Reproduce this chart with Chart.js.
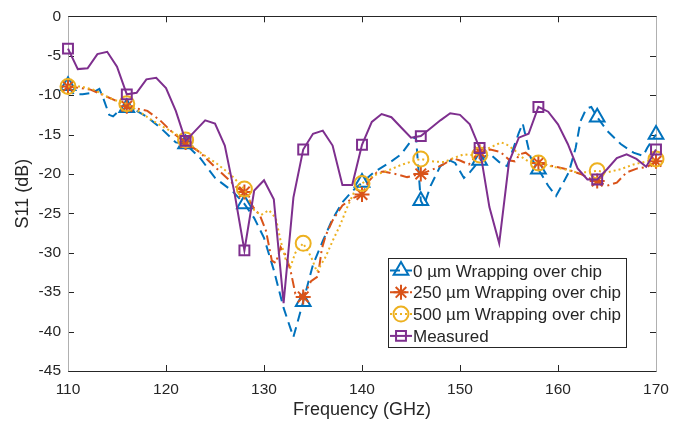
<!DOCTYPE html>
<html><head><meta charset="utf-8">
<script src="https://cdn.jsdelivr.net/npm/chart.js@4.4.1/dist/chart.umd.min.js"></script>
<style>html,body{margin:0;padding:0;background:#fff;}#wrap{width:693px;height:421px;}</style>
</head><body><div id="wrap"><canvas id="c" width="693" height="421"></canvas></div>
<script>
// ---------- data ----------
const xTicks = [110,120,130,140,150,160,170];
const yTicks = [-45,-40,-35,-30,-25,-20,-15,-10,-5,0];
const markerFreqs = [110,116,122,128,134,140,146,152,158,164,170];
const seriesLabels = ['0 µm Wrapping over chip','250 µm Wrapping over chip','500 µm Wrapping over chip','Measured'];

const freq0um = [110,110.6,111.5,112.5,113.2,113.6,114.2,114.6,115.2,116,117,118,119.4,121,122,123.5,125,126.8,128,129,130,131,132,133,134,135,136,137,138,139,140,141.2,143,144,145,145.5,146,146.3,147,148,149,149.5,150.4,151,152,153,154,154.8,156,156.4,157.2,158,159,159.8,160.5,161.1,161.8,162.3,162.9,163.4,164,165,166.4,167.7,168.7,169.1,170];
const s11_0um  = [-8.8,-9.9,-9.9,-9.7,-9.2,-10.4,-12.5,-12.7,-12.0,-11.6,-12.0,-12.7,-14.1,-16.0,-16.2,-18.0,-20.5,-22.2,-23.8,-25.6,-28.1,-32.2,-37.0,-40.7,-36.2,-31.5,-28.5,-25.7,-23.6,-22.2,-21.1,-19.8,-18.4,-17.5,-15.8,-15.2,-23.4,-24.1,-21.5,-19.0,-18.3,-18.6,-20.5,-19.8,-18.3,-17.4,-18.5,-19.0,-14.8,-13.6,-17.9,-19.4,-21.5,-22.8,-21.2,-19.8,-16.7,-13.3,-11.7,-11.5,-12.8,-14.5,-16.2,-17.3,-17.7,-16.7,-15.0];

const freq250um = [110,111.3,112.3,113.6,114.7,116,117,118.1,119.4,120.8,122,123.5,124.9,126.3,127.3,128,128.9,129.6,130.2,130.8,131.2,131.7,132.2,132.7,133.2,134,134.8,135.5,135.9,136.3,137,138,139,140,140.7,141.5,142.2,143.4,144.6,146,147.1,148.3,149.3,150,150.9,152,153.1,154.1,155.1,155.6,156.1,156.7,158,159.4,160.9,162.3,163.3,164,165,166,167,168.1,169.1,170];
const s11_250um  = [-8.9,-9.1,-9.3,-10.0,-10.6,-11.4,-11.7,-12.0,-13.2,-14.9,-16.0,-17.3,-19.0,-20.6,-21.8,-22.3,-24.2,-25.3,-27.2,-31.0,-31.3,-29.3,-30.3,-32.2,-35.2,-35.6,-33.6,-33.0,-29.5,-27.8,-25.9,-24.0,-23.1,-22.6,-20.9,-19.8,-19.7,-20.0,-20.4,-20.0,-19.5,-18.8,-18.0,-18.3,-18.8,-17.2,-16.9,-17.2,-18.3,-18.4,-17.5,-17.3,-18.6,-19.0,-19.4,-20.0,-20.6,-20.9,-21.5,-21.1,-19.8,-19.3,-19.1,-18.4];

const freq500um = [110,111.3,112.6,114,114.7,116,117.4,118.7,120.1,121.1,122,123.4,125.2,126.7,128,129,129.7,130.5,131.2,131.7,132.2,132.7,133.2,134,134.8,135.4,136.3,137,137.8,138.5,139.2,140,141.2,142.6,143.9,145.1,146,147.1,148.4,149.1,150.4,151,152,152.8,154.2,154.8,155.6,156.1,157.1,158,159.2,160.6,161.9,163,164,165,166.4,167.7,169.1,170];
const s11_500um  = [-8.9,-8.9,-9.3,-10.2,-10.6,-11.1,-12.2,-13.3,-14.3,-15.0,-15.7,-17.2,-18.7,-20.2,-21.9,-24.6,-25.2,-24.6,-25.6,-28.5,-30.8,-31.8,-30.0,-28.8,-30.5,-32.4,-30.5,-28.5,-26.4,-24.2,-22.3,-21.2,-20.2,-19.6,-18.9,-18.4,-18.1,-18.4,-18.5,-18.1,-17.5,-17.6,-17.6,-16.8,-16.0,-16.3,-17.0,-17.7,-18.5,-18.6,-19.0,-19.4,-19.8,-19.8,-19.6,-19.8,-19.4,-18.8,-18.4,-18.1];

const freqMeasured = [110,111,112,113,114,115,116,117,118,119,120,121,122,123,124,125,126,127,128,129,130,131,132,133,134,135,136,137,138,139,140,141,142,143,144,145,146,147,148,149,150,151,152,153,154,155,156,157,158,159,160,161,162,163,164,165,166,167,168,169,170];
const s11Measured  = [-4.1,-6.7,-6.6,-4.8,-4.5,-6.4,-9.9,-9.7,-8.0,-7.8,-9.1,-12.0,-15.8,-14.5,-13.2,-13.6,-16.4,-22.5,-29.7,-22.1,-20.8,-23.2,-36.4,-23.0,-16.9,-14.9,-14.5,-16.4,-21.4,-21.4,-16.3,-13.4,-12.4,-12.8,-14.1,-15.4,-15.2,-14.2,-13.2,-12.3,-12.5,-13.7,-16.7,-24.2,-28.8,-18.5,-15.4,-14.9,-11.5,-12.1,-13.7,-16.2,-19.3,-20.7,-20.7,-19.4,-18.0,-17.5,-18.1,-19.1,-16.9];

// ---------- styles ----------
const colors = ['#0072BD','#D95319','#EDB120','#7E2F8E'];
const dashes = [[10,6],[10,4,2,4],[2,3],[]];
const styles = ['triangle','star','circle','rect'];
const radii = [8.5,7.5,7.5,7];
const textColor = '#262626';
const fontFam = '"Liberation Sans", Arial, Helvetica, sans-serif';

const series = [[freq0um,s11_0um],[freq250um,s11_250um],[freq500um,s11_500um],[freqMeasured,s11Measured]];

const datasets = series.map((s,i)=>({
  label: seriesLabels[i],
  data: s[0].map((f,k)=>({x:f,y:s[1][k]})),
  showLine: true,
  borderColor: colors[i],
  borderWidth: 2,
  borderDash: dashes[i],
  tension: 0,
  fill: false,
  clip: false,
  order: 4-i,
  pointStyle: styles[i],
  pointBorderColor: colors[i],
  pointBackgroundColor: 'rgba(0,0,0,0)',
  pointBorderWidth: 2,
  pointRadius: ctx => (ctx.raw && markerFreqs.includes(ctx.raw.x)) ? radii[i] : 0,
  pointHoverRadius: ctx => (ctx.raw && markerFreqs.includes(ctx.raw.x)) ? radii[i] : 0
}));

function line(ctx,x1,y1,x2,y2){ctx.beginPath();ctx.moveTo(x1,y1);ctx.lineTo(x2,y2);ctx.stroke();}

function drawMarker(ctx,style,r,cx,cy){
  ctx.beginPath();
  if(style==='triangle'){
    ctx.moveTo(cx,cy-r);
    ctx.lineTo(cx+r*Math.sin(2*Math.PI/3),cy-r*Math.cos(2*Math.PI/3));
    ctx.lineTo(cx+r*Math.sin(4*Math.PI/3),cy-r*Math.cos(4*Math.PI/3));
    ctx.closePath();
  } else if(style==='circle'){
    ctx.arc(cx,cy,r,0,Math.PI*2);
  } else if(style==='rect'){
    const h=r*Math.SQRT1_2; ctx.rect(cx-h,cy-h,2*h,2*h);
  } else if(style==='star'){
    for(let a=0;a<4;a++){const t=a*Math.PI/4;ctx.moveTo(cx-Math.cos(t)*r,cy-Math.sin(t)*r);ctx.lineTo(cx+Math.cos(t)*r,cy+Math.sin(t)*r);}
  }
  ctx.stroke();
}

const framePlugin = {
  id:'frame',
  beforeDatasetsDraw(chart){
    const {ctx, chartArea:{left,right,top,bottom}, scales:{x,y}} = chart;
    ctx.save();
    ctx.lineWidth=1; ctx.strokeStyle=textColor; ctx.setLineDash([]);
    xTicks.forEach(v=>{const px=Math.round(x.getPixelForValue(v))+0.5; line(ctx,px,bottom,px,bottom-6); line(ctx,px,top,px,top+6);});
    yTicks.forEach(v=>{const py=Math.round(y.getPixelForValue(v))+0.5; line(ctx,left,py,left+6,py); line(ctx,right,py,right-6,py);});
    const L=Math.round(left)+0.5,R=Math.round(right)+0.5,T=Math.round(top)+0.5,B=Math.round(bottom)+0.5;
    ctx.strokeStyle='#b0b0b0';
    line(ctx,L,T,L,B); line(ctx,R,T,R,B);
    ctx.strokeStyle=textColor;
    line(ctx,L,T,R,T); line(ctx,L,B,R,B);
    ctx.restore();
  },
  afterDraw(chart){
    const {ctx, chartArea:{right,bottom}} = chart;
    const bx = right-268, by = bottom-113, bw = 238, bh = 89;
    ctx.save();
    ctx.fillStyle='#fff'; ctx.fillRect(bx,by,bw,bh);
    ctx.lineWidth=1; ctx.strokeStyle=textColor; ctx.setLineDash([]);
    ctx.strokeRect(Math.round(bx)+0.5,Math.round(by)+0.5,bw,bh);
    ctx.font = '17px '+fontFam;
    ctx.textBaseline='alphabetic'; ctx.textAlign='left';
    seriesLabels.forEach((lab,i)=>{
      const cy = by+12.5+i*21.8;
      ctx.strokeStyle=colors[i]; ctx.lineWidth=2;
      ctx.setLineDash(dashes[i]);
      line(ctx,bx+2,cy,bx+24,cy);
      ctx.setLineDash([]);
      drawMarker(ctx,styles[i],radii[i],bx+13,cy);
      ctx.fillStyle=textColor;
      ctx.fillText(lab,bx+25,cy+6);
    });
    ctx.restore();
  }
};

new Chart(document.getElementById('c'),{
  type:'scatter',
  data:{datasets},
  options:{
    responsive:false, animation:false, devicePixelRatio:1,
    layout:{padding:{left:0,top:15,right:37,bottom:0}},
    plugins:{legend:{display:false},tooltip:{enabled:false}},
    scales:{
      x:{type:'linear',min:110,max:170,
        afterBuildTicks:s=>{s.ticks=xTicks.map(v=>({value:v}));},
        afterFit:s=>{s.height=50;},
        grid:{display:false,drawTicks:false},border:{display:false},
        ticks:{color:textColor,font:{family:fontFam,size:15.5},padding:9,maxRotation:0,autoSkip:false},
        title:{display:true,text:'Frequency (GHz)',color:textColor,font:{family:fontFam,size:18},padding:{top:0,bottom:0}}
      },
      y:{type:'linear',min:-45,max:0,
        afterBuildTicks:s=>{s.ticks=yTicks.map(v=>({value:v}));},
        afterFit:s=>{s.width=68;},
        grid:{display:false,drawTicks:false},border:{display:false},
        ticks:{color:textColor,font:{family:fontFam,size:15.5},padding:7,autoSkip:false},
        title:{display:true,text:'S11 (dB)',color:textColor,font:{family:fontFam,size:18},padding:{top:12,bottom:0}}
      }
    }
  },
  plugins:[framePlugin]
});
</script></body></html>
